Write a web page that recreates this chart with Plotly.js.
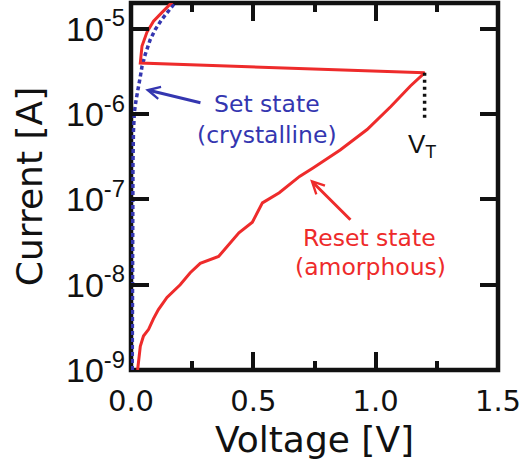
<!DOCTYPE html>
<html>
<head>
<meta charset="utf-8">
<script src="https://cdn.plot.ly/plotly-3.0.1.min.js"></script>
<style>html,body{margin:0;padding:0;background:#fff;}#chart{width:531px;height:464px;}</style>
</head>
<body>
<div id="chart"></div>
<script>
// Reset state (amorphous) sweep: up to threshold, snapback, then ON branch
const resetVoltage = [0.027, 0.038, 0.051, 0.072, 0.092, 0.112, 0.147, 0.167, 0.201, 0.242, 0.283,
  0.358, 0.441, 0.496, 0.537, 0.606, 0.689, 0.744, 0.855, 0.965, 1.062, 1.142, 1.2,
  0.038, 0.045, 0.065, 0.092, 0.126, 0.160, 0.185];
const resetCurrent = [1.0e-9, 1.9e-9, 2.5e-9, 3.0e-9, 4.0e-9, 5.1e-9, 7.1e-9, 8.1e-9, 1.0e-8, 1.38e-8, 1.78e-8,
  2.14e-8, 4.07e-8, 5.4e-8, 9.1e-8, 1.2e-7, 1.86e-7, 2.34e-7, 3.8e-7, 6.6e-7, 1.23e-6, 2.14e-6, 3.05e-6,
  3.98e-6, 6.3e-6, 9.1e-6, 1.23e-5, 1.55e-5, 1.95e-5, 2.3e-5];

// Set state (crystalline)
const setVoltage = [0.005, 0.005, 0.006, 0.008, 0.010, 0.014, 0.021, 0.031, 0.038, 0.045, 0.058, 0.078, 0.099, 0.126, 0.153, 0.181];
const setCurrent = [1.0e-9, 1.0e-8, 1.0e-7, 2.5e-7, 6.3e-7, 1.07e-6, 1.48e-6, 2.04e-6, 2.75e-6, 3.63e-6, 5.0e-6, 7.4e-6, 9.8e-6, 1.29e-5, 1.62e-5, 2.04e-5];

// Threshold voltage marker
const thresholdVoltage = [1.2, 1.2];
const thresholdCurrent = [3.05e-6, 8.3e-7];

// Tick labels
const xTickVals = [0, 0.5, 1.0, 1.5];
const xTickText = ['0.0', '0.5', '1.0', '1.5'];
const yTickVals = [1e-9, 1e-8, 1e-7, 1e-6, 1e-5];
const yTickText = ['10<sup>-9</sup>', '10<sup>-8</sup>', '10<sup>-7</sup>', '10<sup>-6</sup>', '10<sup>-5</sup>'];

const RED = '#ee2b2b';
const BLUE = '#3436b0';

const traces = [
  {x: setVoltage, y: setCurrent, mode: 'lines', line: {color: BLUE, width: 3.5, dash: '4px,3px'}, hoverinfo: 'skip'},
  {x: resetVoltage, y: resetCurrent, mode: 'lines', line: {color: RED, width: 3}, hoverinfo: 'skip'},
  {x: thresholdVoltage, y: thresholdCurrent, mode: 'lines', line: {color: '#111', width: 3.5, dash: '3px,4px'}, hoverinfo: 'skip'}
];

const layout = {
  width: 531, height: 464,
  margin: {l: 131, r: 33, t: 3, b: 94},
  paper_bgcolor: '#fff', plot_bgcolor: '#fff',
  showlegend: false,
  font: {family: 'DejaVu Sans', color: '#111'},
  xaxis: {
    range: [0, 1.5], tickvals: xTickVals, ticktext: xTickText,
    ticks: 'inside', ticklen: 18, tickwidth: 4, tickcolor: '#111', mirror: 'ticks',
    showline: false, showgrid: false, zeroline: false,
    minor: {ticks: 'inside', ticklen: 9, tickwidth: 4, tickcolor: '#111', dtick: 0.25, tick0: 0, showgrid: false},
    tickfont: {family: 'DejaVu Sans', size: 29, color: '#111'},
    ticklabelstandoff: 11,
    title: {text: 'Voltage [V]', font: {family: 'DejaVu Sans', size: 36, color: '#111'}, standoff: 9}
  },
  yaxis: {
    type: 'log', range: [-9, -4.697], tickvals: yTickVals, ticktext: yTickText,
    ticks: 'inside', ticklen: 18, tickwidth: 4, tickcolor: '#111', mirror: 'ticks',
    showline: false, showgrid: false, zeroline: false,
    tickfont: {family: 'Liberation Sans', size: 34, color: '#111'},
    ticklabelstandoff: 5,
    title: {text: 'Current [A]', font: {family: 'DejaVu Sans', size: 36, color: '#111'}, standoff: 12}
  },
  shapes: [
    {type: 'rect', xref: 'paper', yref: 'paper', x0: 0, x1: 1, y0: 0, y1: 1, line: {color: '#111', width: 4.5}, layer: 'below'}
  ],
  annotations: [
    {x: 0.555, y: -5.876, xref: 'x', yref: 'y', text: 'Set state', showarrow: false, font: {family: 'DejaVu Sans', size: 23.5, color: BLUE}, xanchor: 'center', yanchor: 'middle'},
    {x: 0.557, y: -6.24, xref: 'x', yref: 'y', text: '(crystalline)', showarrow: false, font: {family: 'DejaVu Sans', size: 23.5, color: BLUE}, xanchor: 'center', yanchor: 'middle'},
    {x: 0.975, y: -7.447, xref: 'x', yref: 'y', text: 'Reset state', showarrow: false, font: {family: 'DejaVu Sans', size: 23.5, color: RED}, xanchor: 'center', yanchor: 'middle'},
    {x: 0.978, y: -7.787, xref: 'x', yref: 'y', text: '(amorphous)', showarrow: false, font: {family: 'DejaVu Sans', size: 23.5, color: RED}, xanchor: 'center', yanchor: 'middle'},
    {x: 1.19, y: -6.37, xref: 'x', yref: 'y', text: 'V<sub>T</sub>', showarrow: false, font: {family: 'Liberation Sans', size: 26, color: '#111'}, xanchor: 'center', yanchor: 'middle'},
    {x: 0.058, y: -5.71, xref: 'x', yref: 'y', ax: 0.29, ay: -5.87, axref: 'x', ayref: 'y', text: '', showarrow: true, arrowhead: 5, arrowsize: 0.8, arrowwidth: 3, arrowcolor: BLUE},
    {x: 0.732, y: -6.767, xref: 'x', yref: 'y', ax: 0.903, ay: -7.256, axref: 'x', ayref: 'y', text: '', showarrow: true, arrowhead: 5, arrowsize: 0.8, arrowwidth: 3, arrowcolor: RED}
  ]
};

Plotly.newPlot('chart', traces, layout, {displayModeBar: false, staticPlot: true});
</script>
</body>
</html>
